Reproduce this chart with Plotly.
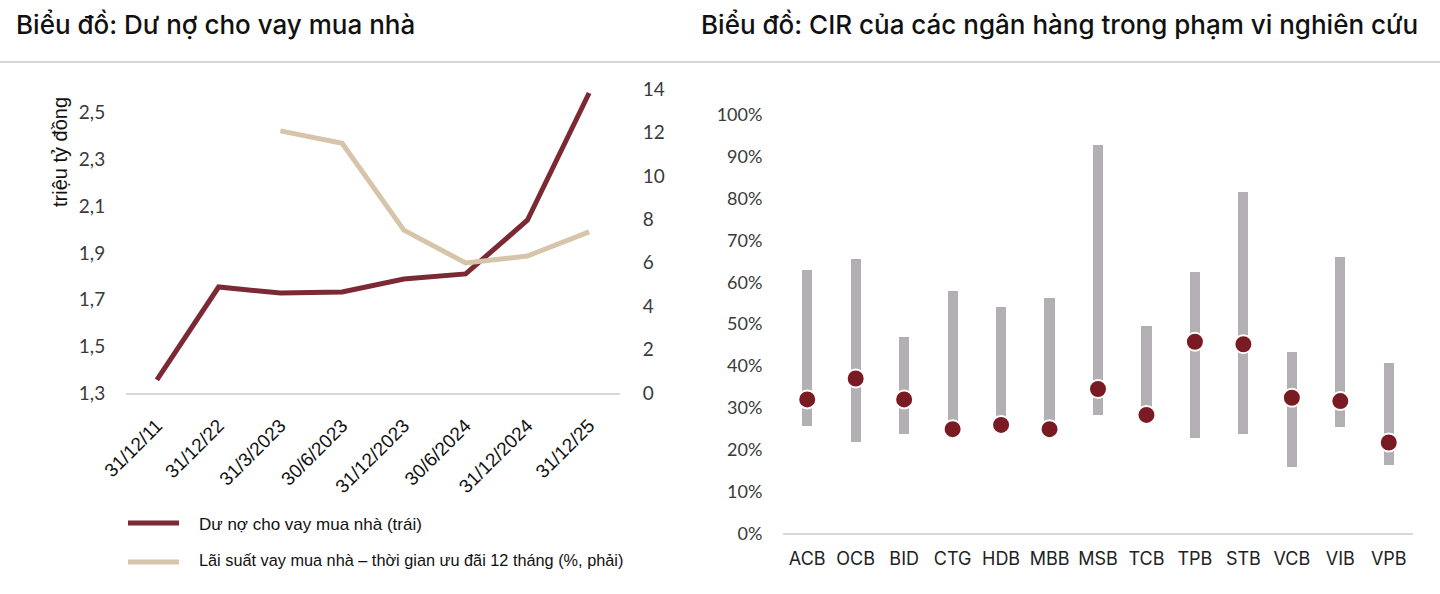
import plotly.graph_objects as go

# ---- Left chart data ----
dates = ["31/12/11", "31/12/22", "31/3/2023", "30/6/2023", "31/12/2023", "30/6/2024", "31/12/2024", "31/12/25"]
loan_outstanding = [1.356, 1.754, 1.728, 1.733, 1.788, 1.81, 2.04, 2.585]
mortgage_rate = [None, None, 12.07, 11.5, 7.5, 5.99, 6.31, 7.42]
left_ticks = [1.3, 1.5, 1.7, 1.9, 2.1, 2.3, 2.5]
left_ticktext = ["1,3", "1,5", "1,7", "1,9", "2,1", "2,3", "2,5"]
right_ticks = [0, 2, 4, 6, 8, 10, 12, 14]

# ---- Right chart data ----
banks = ["ACB", "OCB", "BID", "CTG", "HDB", "MBB", "MSB", "TCB", "TPB", "STB", "VCB", "VIB", "VPB"]
cir_current = [32.0, 37.0, 32.0, 24.9, 25.9, 24.9, 34.5, 28.3, 45.8, 45.2, 32.4, 31.6, 21.7]
cir_min = [25.6, 21.9, 23.7, 24.9, 25.9, 24.9, 28.4, 28.3, 22.9, 23.7, 15.9, 25.5, 16.4]
cir_max = [62.9, 65.5, 47.0, 58.0, 54.2, 56.2, 92.8, 49.6, 62.5, 81.6, 43.4, 66.1, 40.6]
cir_ticks = list(range(0, 101, 10))
cir_ticktext = [f"{v}%" for v in cir_ticks]

W, H = 1440, 594
def px(x): return x / W
def py(y): return 1 - y / H

RED = "#7b2a33"
BEIGE = "#d6c5ab"
DOT = "#7a1b23"
GRAY = "#b2b0b2"
TICKFONT = dict(family="Lato", size=18, color="#3a3a3a")

fig = go.Figure()

fig.add_trace(go.Scatter(x=dates, y=loan_outstanding, mode="lines",
                         line=dict(color=RED, width=5), xaxis="x", yaxis="y",
                         name="Dư nợ cho vay mua nhà (trái)", showlegend=False))
fig.add_trace(go.Scatter(x=dates, y=mortgage_rate, mode="lines",
                         line=dict(color=BEIGE, width=5), xaxis="x", yaxis="y2",
                         name="Lãi suất vay mua nhà – thời gian ưu đãi 12 tháng (%, phải)",
                         showlegend=False))

fig.add_trace(go.Bar(x=banks, y=[mx - mn for mx, mn in zip(cir_max, cir_min)], base=cir_min,
                     marker=dict(color=GRAY, line=dict(width=0)), width=0.21,
                     xaxis="x3", yaxis="y3", showlegend=False))
fig.add_trace(go.Scatter(x=banks, y=cir_current, mode="markers",
                         marker=dict(color=DOT, size=18, line=dict(color="white", width=2)),
                         xaxis="x3", yaxis="y3", showlegend=False))

fig.update_layout(
    width=W, height=H,
    margin=dict(l=0, r=0, t=0, b=0, autoexpand=False),
    paper_bgcolor="white", plot_bgcolor="white",
    xaxis=dict(domain=[px(126), px(620)], type="category", range=[-0.5, 7.5], tickangle=-45,
               automargin=False, showgrid=False, showline=True, linecolor="#d9d9d9", linewidth=2,
               ticks="outside", ticklen=12, tickcolor="rgba(0,0,0,0)",
               tickfont=dict(family="Liberation Sans", size=19, color="#111"),
               anchor="y", zeroline=False),
    yaxis=dict(domain=[py(393), py(89)], range=[1.3, 2.602], tickvals=left_ticks, automargin=False,
               ticktext=left_ticktext, showgrid=False, zeroline=False,
               ticks="outside", ticklen=16, tickcolor="rgba(0,0,0,0)",
               tickfont=dict(family="Lato", size=19, color="#3a3a3a"), anchor="x"),
    yaxis2=dict(domain=[py(393), py(89)], range=[0, 14], tickvals=right_ticks, automargin=False,
                overlaying="y", side="right", anchor="x", showgrid=False, zeroline=False,
                ticks="outside", ticklen=18, tickcolor="rgba(0,0,0,0)",
                tickfont=dict(family="Lato", size=19, color="#3a3a3a")),
    xaxis3=dict(domain=[px(783), px(1413)], type="category", range=[-0.5, 12.5], anchor="y3",
                automargin=False, showgrid=False, showline=True, linecolor="#d9d9d9", linewidth=2,
                ticks="outside", ticklen=8, tickcolor="rgba(0,0,0,0)",
                tickfont=dict(family="Inter", size=18, color="#222"), zeroline=False),
    yaxis3=dict(domain=[py(533.3), py(115)], range=[0, 100], tickvals=cir_ticks, ticktext=cir_ticktext,
                showgrid=False, zeroline=False, anchor="x3", automargin=False,
                ticks="outside", ticklen=16, tickcolor="rgba(0,0,0,0)", tickfont=TICKFONT),
    bargap=0,
)

annotations = [
    dict(text="Biểu đồ: Dư nợ cho vay mua nhà", x=px(14), y=py(24), xanchor="left", yanchor="middle",
         font=dict(family="Inter", size=26, color="#111", weight=500)),
    dict(text="Biểu đồ: CIR của các ngân hàng trong phạm vi nghiên cứu", x=px(699), y=py(24),
         xanchor="left", yanchor="middle",
         font=dict(family="Inter", size=26, color="#111", weight=500)),
    dict(text="triệu tỷ đồng", x=px(60), y=py(152), textangle=-90, xanchor="center", yanchor="middle",
         font=dict(family="Liberation Sans", size=20, color="#111")),
    dict(text="Dư nợ cho vay mua nhà (trái)", x=px(197), y=py(524), xanchor="left", yanchor="middle",
         font=dict(family="Liberation Sans", size=17, color="#111")),
    dict(text="Lãi suất vay mua nhà – thời gian ưu đãi 12 tháng (%, phải)", x=px(197), y=py(560),
         xanchor="left", yanchor="middle", font=dict(family="Liberation Sans", size=16.3, color="#111")),
]
for a in annotations:
    a.update(xref="paper", yref="paper", showarrow=False)
fig.update_layout(annotations=annotations)

fig.update_layout(shapes=[
    dict(type="line", xref="paper", yref="paper", x0=0, x1=1, y0=py(62), y1=py(62),
         line=dict(color="#c8c8c8", width=1.5)),
    dict(type="line", xref="paper", yref="paper", x0=px(128), x1=px(179), y0=py(523), y1=py(523),
         line=dict(color=RED, width=5)),
    dict(type="line", xref="paper", yref="paper", x0=px(128), x1=px(179), y0=py(562), y1=py(562),
         line=dict(color=BEIGE, width=5)),
])

fig.write_html("out.html")
